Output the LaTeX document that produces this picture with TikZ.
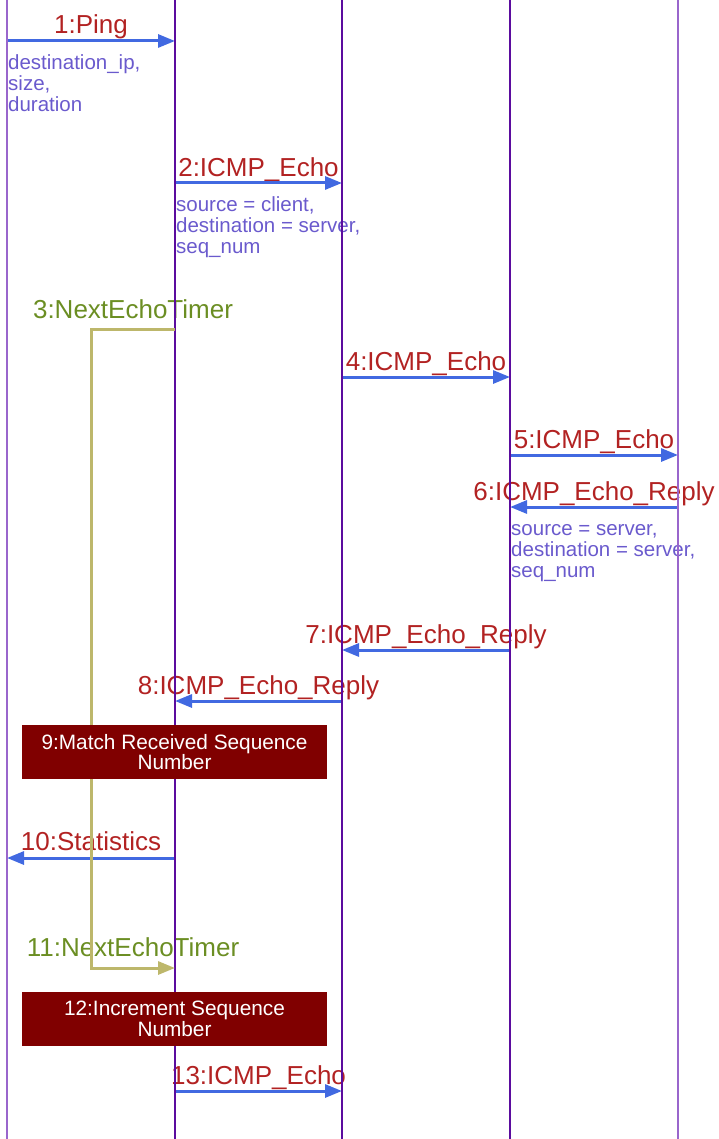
\documentclass[tikz,border=0pt]{standalone}
\usepackage{fontspec}
\setmainfont{Liberation Sans}
\usetikzlibrary{arrows.meta}
\definecolor{labelred}{HTML}{B22222}
\definecolor{arrowblue}{HTML}{4169E1}
\definecolor{notecol}{HTML}{6A5ACD}
\definecolor{timergreen}{HTML}{6B8E23}
\definecolor{timerline}{HTML}{BDB76B}
\definecolor{boxfill}{HTML}{800000}
\definecolor{outerlife}{HTML}{9966CC}
\definecolor{innerlife}{HTML}{5B0C9E}
\begin{document}
\begin{tikzpicture}[x=1pt,y=-1pt,
  lbl/.style={text=labelred,font=\fontsize{26}{26}\selectfont,anchor=base,inner sep=0pt},
  tlbl/.style={text=timergreen,font=\fontsize{26}{26}\selectfont,anchor=base,inner sep=0pt},
  notetext/.style={text=notecol,font=\fontsize{20.5}{21}\selectfont,anchor=base west,align=left,inner sep=0pt},
  msg/.style={draw=arrowblue,line width=3pt,-{Triangle[length=17pt,width=13pt]}},
  timer/.style={draw=timerline,line width=3pt},
  timerarrow/.style={timer,-{Triangle[length=17pt,width=13pt]}},
  outerline/.style={draw=outerlife,line width=2pt},
  innerline/.style={draw=innerlife,line width=2.2pt},
  actbox/.style={fill=boxfill,text=white,minimum width=305pt,minimum height=54pt,inner sep=0pt,
    align=center,font=\fontsize{20.8}{20.7}\selectfont}]
\useasboundingbox (0,0) rectangle (719,1139);
% lifeline ends
\foreach \n/\x in {1/7,2/175,3/342,4/510,5/678}{
  \coordinate (top\n) at (\x,0);
  \coordinate (bot\n) at (\x,1139);
}
% message end points
\coordinate (m1a) at (7,41);    \coordinate (m1b) at (175,41);
\coordinate (m2a) at (175,183); \coordinate (m2b) at (342,183);
\coordinate (m4a) at (342,377); \coordinate (m4b) at (510,377);
\coordinate (m5a) at (510,455); \coordinate (m5b) at (678,455);
\coordinate (m6a) at (678,507); \coordinate (m6b) at (510,507);
\coordinate (m7a) at (510,650); \coordinate (m7b) at (342,650);
\coordinate (m8a) at (342,701); \coordinate (m8b) at (175,701);
\coordinate (m10a) at (175,858); \coordinate (m10b) at (7,858);
\coordinate (m13a) at (175,1091); \coordinate (m13b) at (342,1091);
\coordinate (t3a) at (175,329); \coordinate (t3b) at (91,329);
\coordinate (t11a) at (91,968); \coordinate (t11b) at (175,968);
% labels
\node[lbl] (l1) at (91,34) {1:Ping};
\node[lbl] (l2) at (258.5,177) {2:ICMP\_Echo};
\node[tlbl] (l3) at (133,318) {3:NextEchoTimer};
\node[lbl] (l4) at (426,370) {4:ICMP\_Echo};
\node[lbl] (l5) at (594,448) {5:ICMP\_Echo};
\node[lbl] (l6) at (594,500) {6:ICMP\_Echo\_Reply};
\node[lbl] (l7) at (426,643) {7:ICMP\_Echo\_Reply};
\node[lbl] (l8) at (258.5,694) {8:ICMP\_Echo\_Reply};
\node[lbl] (l10) at (91,850) {10:Statistics};
\node[tlbl] (l11) at (133,956) {11:NextEchoTimer};
\node[lbl] (l13) at (258.5,1084) {13:ICMP\_Echo};
% notes (anchor at baseline of last line)
\node[notetext] (n1) at (8,112) {destination\_ip,\\size,\\duration};
\node[notetext] (n2) at (176,254) {source = client,\\destination = server,\\seq\_num};
\node[notetext] (n6) at (511,577) {source = server,\\destination = server,\\seq\_num};
% messages
\draw[msg] (m1a) -- (m1b);
\draw[msg] (m2a) -- (m2b);
\draw[msg] (m4a) -- (m4b);
\draw[msg] (m5a) -- (m5b);
\draw[msg] (m6a) -- (m6b);
\draw[msg] (m7a) -- (m7b);
\draw[msg] (m8a) -- (m8b);
\draw[msg] (m10a) -- (m10b);
\draw[msg] (m13a) -- (m13b);
% lifelines
\draw[outerline] (top1) -- (bot1);
\draw[innerline] (top2) -- (bot2);
\draw[innerline] (top3) -- (bot3);
\draw[innerline] (top4) -- (bot4);
\draw[outerline] (top5) -- (bot5);
% timer self message
\draw[timerarrow] (t3a) -- (t3b) -- (t11a) -- (t11b);
% activity boxes
\node[actbox] (b9) at (174.5,752) {9:Match Received Sequence\\Number};
\node[actbox] (b12) at (174.5,1019) {12:Increment Sequence\\Number};
\end{tikzpicture}
\end{document}
